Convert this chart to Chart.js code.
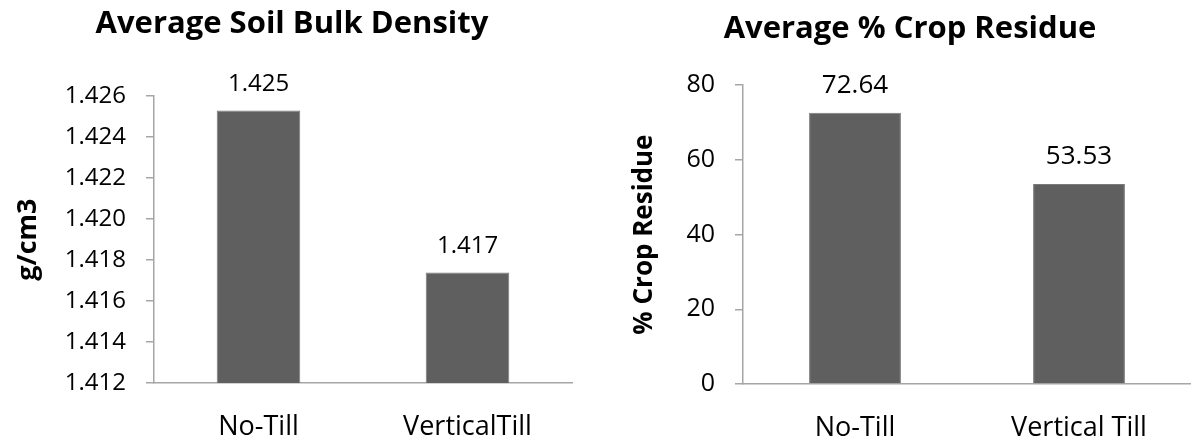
<!DOCTYPE html>
<html>
<head>
<meta charset="utf-8">
<script src="https://cdn.jsdelivr.net/npm/chart.js@4.4.1/dist/chart.umd.min.js"></script>
<style>
  html, body { margin: 0; padding: 0; background: #fff; }
  #wrap { position: relative; width: 1191px; height: 443px; overflow: hidden; }
  .box { position: absolute; top: 0; height: 443px; }
  #leftBox { left: 0; width: 600px; }
  #rightBox { left: 600px; width: 591px; }
</style>
</head>
<body>
<div id="wrap">
  <div class="box" id="leftBox"><canvas id="densityChart"></canvas></div>
  <div class="box" id="rightBox"><canvas id="residueChart"></canvas></div>
</div>
<script>
// ===== Data =====
const densityCategories = ["No-Till", "VerticalTill"];
const densityValues = [1.4253, 1.4174];
const densityTicks = [1.412, 1.426, 0.002]; // min, max, step

const residueCategories = ["No-Till", "Vertical Till"];
const residueValues = [72.64, 53.53];
const residueTicks = [0, 80, 20];

// ===== Styles =====
const FONT = "'Open Sans', 'DejaVu Sans', sans-serif";
const BAR_COLOR = "#5f5f5f";
const AXIS_COLOR = "#a6a6a6";

// draws the value over each bar
const valueLabels = {
    id: "valueLabels",
    afterDatasetsDraw(chart, args, opts) {
        const ctx = chart.ctx;
        const meta = chart.getDatasetMeta(0);
        ctx.save();
        ctx.font = opts.size + "px " + FONT;
        ctx.fillStyle = "#000";
        ctx.textAlign = "center";
        ctx.textBaseline = "bottom";
        meta.data.forEach((bar, i) => {
            const v = chart.data.datasets[0].data[i];
            ctx.fillText(v.toFixed(opts.decimals), bar.x, bar.y - 14);
        });
        ctx.restore();
    }
};

function makeChart(canvas, cfg) {
    return new Chart(canvas.getContext("2d"), {
        type: "bar",
        data: {
            labels: cfg.categories,
            datasets: [{
                data: cfg.values,
                backgroundColor: BAR_COLOR,
                borderColor: "#7a7a7a",
                borderWidth: 1,
                categoryPercentage: 1,
                barPercentage: cfg.barPct
            }]
        },
        options: {
            responsive: true,
            maintainAspectRatio: false,
            animation: false,
            layout: { padding: { top: 0, right: cfg.padRight, left: cfg.padLeft, bottom: 0 } },
            plugins: {
                legend: { display: false },
                tooltip: { enabled: false },
                valueLabels: { decimals: cfg.decimals, size: cfg.labelSize },
                title: {
                    display: true,
                    text: cfg.title,
                    color: "#000",
                    font: { family: FONT, size: 31, weight: "bold" },
                    padding: { top: cfg.titleTop, bottom: cfg.titleBottom }
                }
            },
            scales: {
                x: {
                    grid: { display: false },
                    border: { display: true, color: AXIS_COLOR, width: 1.5 },
                    ticks: { color: "#000", font: { family: FONT, size: 27 }, padding: 20 },
                    afterFit: s => { s.height = cfg.xHeight; }
                },
                y: {
                    min: cfg.ticks[0],
                    max: cfg.ticks[1],
                    ticks: {
                        stepSize: cfg.ticks[2],
                        color: "#000",
                        padding: 20,
                        font: { family: FONT, size: cfg.tickSize },
                        callback: v => v.toFixed(cfg.tickDecimals)
                    },
                    grid: { drawOnChartArea: false, tickLength: 8, color: AXIS_COLOR, lineWidth: 1.5 },
                    border: { display: true, color: AXIS_COLOR, width: 1.5 },
                    title: {
                        display: true,
                        text: cfg.yTitle,
                        color: "#000",
                        font: { family: FONT, size: cfg.yTitleSize, weight: "bold" },
                        padding: { top: 0, bottom: 0 }
                    },
                    afterFit: s => { s.width = cfg.yWidth; }
                }
            }
        },
        plugins: [valueLabels]
    });
}

makeChart(document.getElementById("densityChart"), {
    categories: densityCategories,
    values: densityValues,
    ticks: densityTicks,
    tickDecimals: 3,
    decimals: 3,
    tickSize: 24,
    labelSize: 24,
    yTitleSize: 27,
    title: "Average Soil Bulk Density",
    yTitle: "g/cm3",
    barPct: 0.4,
    padLeft: 12,
    padRight: 28,
    titleTop: 6,
    titleBottom: 53,
    xHeight: 60,
    yWidth: 142
});

makeChart(document.getElementById("residueChart"), {
    categories: residueCategories,
    values: residueValues,
    ticks: residueTicks,
    tickDecimals: 0,
    decimals: 2,
    tickSize: 25,
    labelSize: 26,
    yTitleSize: 26,
    title: "Average % Crop Residue",
    yTitle: "% Crop Residue",
    barPct: 0.41,
    padLeft: 29,
    padRight: 0,
    titleTop: 11,
    titleBottom: 37,
    xHeight: 59,
    yWidth: 114
});
</script>
</body>
</html>
